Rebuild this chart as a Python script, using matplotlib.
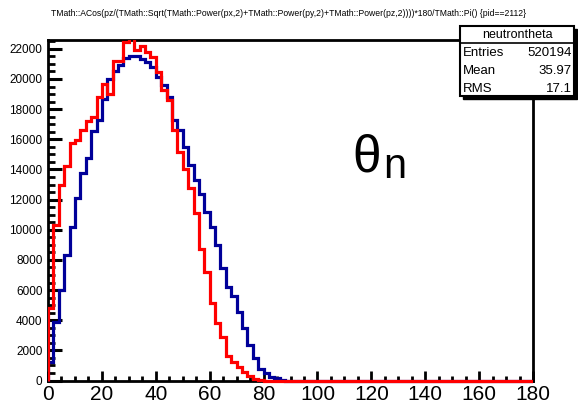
import numpy as np
import matplotlib
matplotlib.use("Agg")
import matplotlib.pyplot as plt
from matplotlib import font_manager
from matplotlib.patches import Rectangle
from matplotlib.ticker import MultipleLocator
from matplotlib.lines import Line2D

# ---------------- data (2-degree bins, 0..180) ----------------
bin_edges = np.arange(0, 182, 2)
blue_counts = [1250, 3890, 5990, 8300, 10200, 12090, 13740, 14730, 16550, 17300,
               18690, 20010, 20560, 20940, 21380, 21510, 21510, 21340, 21110, 20780,
               20120, 19570, 18790, 17250, 16590, 15480, 14270, 13310, 12400, 11180,
               10150, 8970, 7430, 6210, 5600, 4560, 3460, 2350, 1470, 740,
               520, 250, 150, 50] + [0] * 46
red_counts = [4800, 10300, 13000, 14200, 15750, 15970, 16590, 17200, 17470, 18790,
              19700, 19000, 21220, 21220, 22450, 22800, 21890, 22220, 21820, 21440,
              20450, 19240, 18580, 16590, 15150, 14000, 12760, 11100, 8750, 7200,
              5150, 3790, 2860, 1600, 1200, 910, 580, 300, 100, 30] + [0] * 50
x_ticks = list(range(0, 181, 20))
y_ticks = list(range(0, 22001, 2000))
title = ("TMath::ACos(pz/(TMath::Sqrt(TMath::Power(px,2)+TMath::Power(py,2)"
         "+TMath::Power(pz,2))))*180/TMath::Pi() {pid==2112}")
stats_name = "neutrontheta"
stats_labels = ["Entries", "Mean", "RMS"]
stats_values = ["520194", "35.97", "17.1"]

# ---------------- fonts ----------------
names = {f.name for f in font_manager.fontManager.ttflist}
narrow = "Liberation Sans Narrow" if "Liberation Sans Narrow" in names else "Liberation Sans"
plt.rcParams["font.family"] = [narrow, "DejaVu Sans"]

W, H = 578, 419
fig = plt.figure(figsize=(W / 100, H / 100), dpi=100)
fig.patch.set_facecolor("white")

def fx(px):
    return px / W

def fy(py):
    return 1 - py / H

left, right, top, bottom = 48, 533, 40, 380.5
ax = fig.add_axes([fx(left), fy(bottom), fx(right) - fx(left), fy(top) - fy(bottom)])

ymax = 1.05 * max(blue_counts)
ax.set_xlim(0, 180)
ax.set_ylim(0, ymax)

clip = Rectangle((0, -0.05), 1, 1.05, transform=ax.transAxes, facecolor="none", edgecolor="none")
ax.add_patch(clip)
blue_col = "#000099"
red_col = "#ff0000"
s1 = ax.stairs(blue_counts, bin_edges, color=blue_col, linewidth=2.3, zorder=3)
s2 = ax.stairs(red_counts, bin_edges, color=red_col, linewidth=2.3, zorder=4)
s1.set_clip_path(clip)
s2.set_clip_path(clip)

for sp in ax.spines.values():
    sp.set_linewidth(2.0)
    sp.set_zorder(2.5)

ax.set_xticks(x_ticks)
ax.set_yticks(y_ticks)
ax.xaxis.set_minor_locator(MultipleLocator(5))
ax.yaxis.set_minor_locator(MultipleLocator(500))
ax.tick_params(axis="y", which="major", direction="in", length=10, width=2.2,
               labelsize=8.5, pad=4, right=False)
ax.tick_params(axis="y", which="minor", direction="in", length=5, width=2.0, right=False)
ax.tick_params(axis="x", which="major", direction="in", length=7, width=2.0,
               labelsize=15, pad=3, top=False)
ax.tick_params(axis="x", which="minor", direction="in", length=3.6, width=2.0, top=False)
ax.set_yticklabels([str(v) for v in y_ticks])
ax.set_xticklabels([str(v) for v in x_ticks])

# title
fig.text(fx(289), fy(13), title, ha="center", va="center", fontsize=6.2)

# theta label
fig.text(fx(367), fy(172), "θ", ha="center", va="baseline", fontsize=37,
         family=["Liberation Sans", "DejaVu Sans"])
fig.text(fx(383), fy(178), "n", ha="left", va="baseline", fontsize=30,
         family=["Liberation Sans", "DejaVu Sans"])

# stats box
bx0, by0, bx1, by1 = 460, 26, 574, 96
shadow = Rectangle((fx(bx0 + 3), fy(by1 + 3)), fx(bx1) - fx(bx0), fy(by0) - fy(by1),
                   transform=fig.transFigure, facecolor="black", edgecolor="black", zorder=9)
box = Rectangle((fx(bx0), fy(by1)), fx(bx1) - fx(bx0), fy(by0) - fy(by1),
                transform=fig.transFigure, facecolor="white", edgecolor="black",
                linewidth=1.5, zorder=10)
fig.patches.extend([shadow, box])
fig.lines.append(Line2D([fx(bx0), fx(bx1)], [fy(43), fy(43)], transform=fig.transFigure,
                        color="black", linewidth=1.2, zorder=11))
fig.text(fx((bx0 + bx1) / 2), fy(34.5), stats_name, ha="center", va="center",
         fontsize=9, zorder=12)
for i, (lab, val) in enumerate(zip(stats_labels, stats_values)):
    yy = 53 + i * 18
    fig.text(fx(bx0 + 3), fy(yy), lab, ha="left", va="center", fontsize=9.5, zorder=12)
    fig.text(fx(bx1 - 2), fy(yy), val, ha="right", va="center", fontsize=9.5, zorder=12)

fig.savefig("out.png", dpi=100, facecolor="white")
